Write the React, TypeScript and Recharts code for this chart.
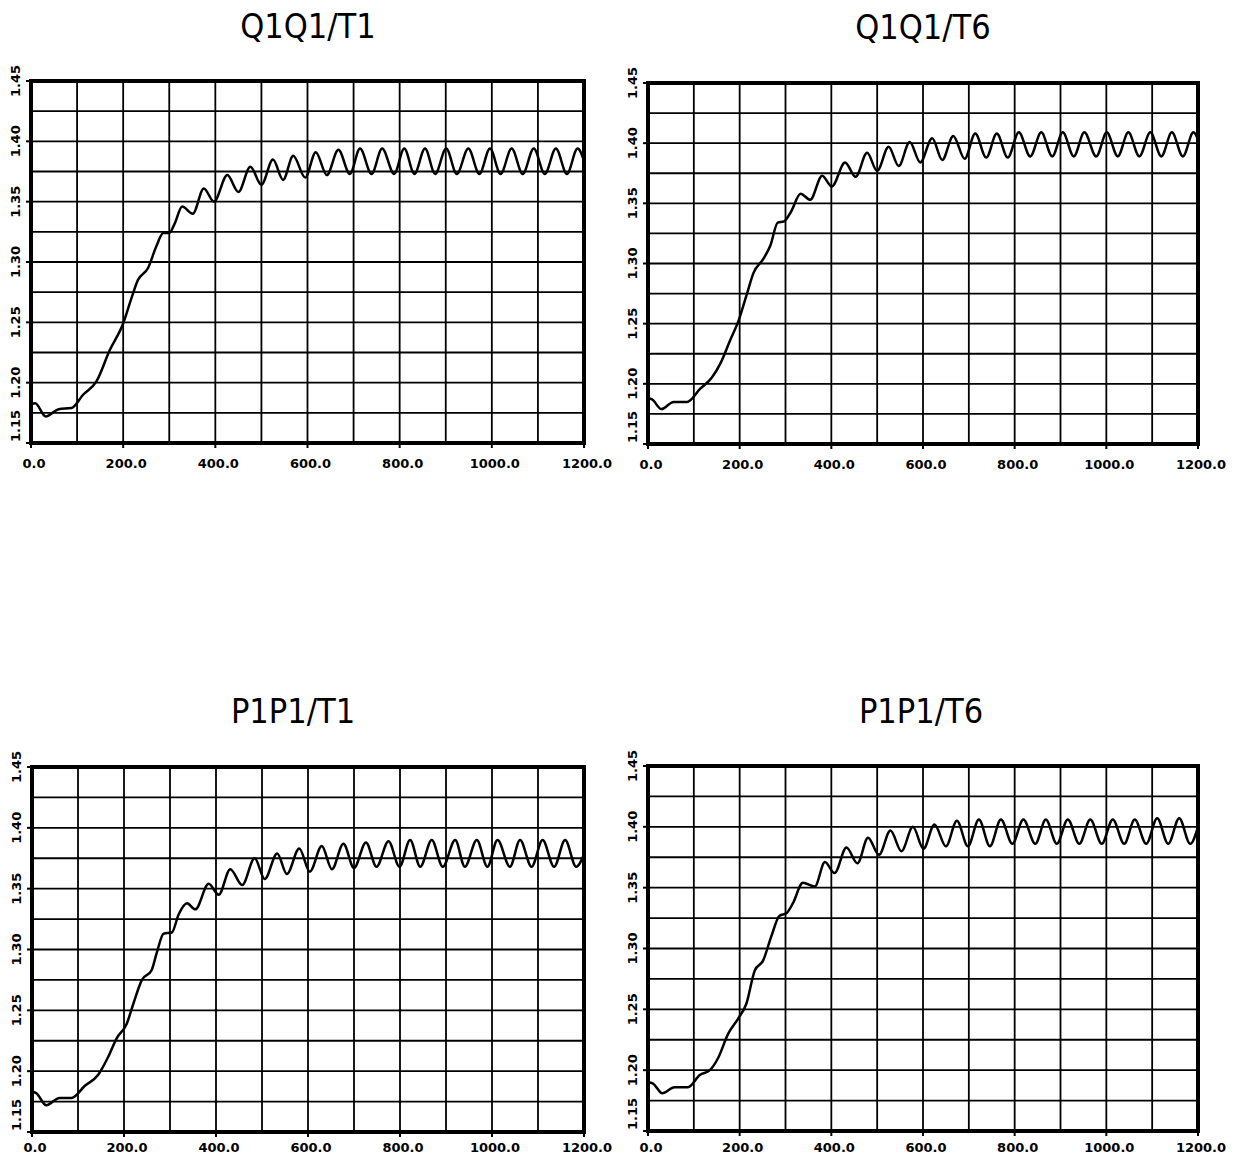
import React from 'react';
import { LineChart, Line, XAxis, YAxis, CartesianGrid, ReferenceArea } from 'recharts';

// Axis ticks (grid every 100 / 0.025, labels every 200 / 0.05)
const X_TICKS = [0, 100, 200, 300, 400, 500, 600, 700, 800, 900, 1000, 1100, 1200];
const Y_TICKS = [1.15, 1.175, 1.2, 1.225, 1.25, 1.275, 1.3, 1.325, 1.35, 1.375, 1.4, 1.425, 1.45];
const X_LABELED = [0, 200, 400, 600, 800, 1000, 1200];
const Y_LABELED = [1.15, 1.2, 1.25, 1.3, 1.35, 1.4, 1.45];

// Q1Q1/T1
const Q1T1_X = [0, 9, 32, 60, 88, 113, 142, 171, 200, 218, 232, 254, 272, 287, 300, 312, 328, 351, 375, 397, 426, 450, 476, 500, 525, 547, 569, 595, 618, 642, 667, 692, 714, 739, 762, 788, 810, 832, 855, 877, 901, 924, 949, 973, 996, 1019, 1043, 1067, 1091, 1115, 1139, 1163, 1186, 1200];
const Q1T1_Y = [1.182, 1.183, 1.172, 1.178, 1.179, 1.19, 1.201, 1.227, 1.249, 1.27, 1.285, 1.295, 1.313, 1.324, 1.324, 1.332, 1.346, 1.34, 1.361, 1.35, 1.372, 1.358, 1.379, 1.364, 1.385, 1.368, 1.388, 1.37, 1.391, 1.372, 1.393, 1.373, 1.394, 1.373, 1.394, 1.373, 1.394, 1.373, 1.394, 1.373, 1.394, 1.373, 1.394, 1.373, 1.394, 1.373, 1.394, 1.373, 1.394, 1.373, 1.394, 1.373, 1.394, 1.384];

// Q1Q1/T6
const Q1T6_X = [0, 9, 29, 56, 85, 114, 139, 158, 179, 198, 216, 230, 252, 267, 283, 297, 312, 333, 354, 380, 401, 430, 453, 478, 500, 525, 547, 571, 594, 620, 642, 666, 691, 714, 738, 761, 785, 809, 834, 858, 882, 905, 929, 952, 978, 1001, 1025, 1048, 1072, 1096, 1120, 1143, 1167, 1190, 1200];
const Q1T6_Y = [1.188, 1.187, 1.179, 1.185, 1.185, 1.196, 1.205, 1.217, 1.236, 1.253, 1.275, 1.292, 1.304, 1.315, 1.334, 1.335, 1.343, 1.358, 1.353, 1.373, 1.364, 1.384, 1.372, 1.392, 1.377, 1.397, 1.381, 1.401, 1.384, 1.404, 1.386, 1.406, 1.387, 1.408, 1.388, 1.408, 1.388, 1.409, 1.389, 1.409, 1.389, 1.409, 1.389, 1.409, 1.389, 1.409, 1.389, 1.409, 1.389, 1.409, 1.389, 1.409, 1.389, 1.409, 1.403];

// P1P1/T1
const P1T1_X = [0, 9, 31, 60, 86, 115, 144, 166, 184, 206, 220, 239, 260, 271, 286, 304, 319, 337, 355, 384, 406, 431, 457, 484, 506, 533, 554, 581, 604, 630, 652, 677, 700, 726, 749, 775, 799, 822, 844, 869, 893, 920, 941, 967, 990, 1012, 1039, 1061, 1086, 1110, 1135, 1159, 1183, 1200];
const P1T1_Y = [1.183, 1.182, 1.172, 1.178, 1.178, 1.188, 1.197, 1.212, 1.227, 1.239, 1.255, 1.275, 1.283, 1.297, 1.313, 1.314, 1.329, 1.338, 1.333, 1.354, 1.345, 1.366, 1.353, 1.375, 1.358, 1.379, 1.362, 1.383, 1.364, 1.385, 1.366, 1.387, 1.367, 1.388, 1.368, 1.389, 1.368, 1.39, 1.368, 1.39, 1.368, 1.39, 1.368, 1.39, 1.368, 1.39, 1.368, 1.39, 1.368, 1.39, 1.368, 1.39, 1.368, 1.378];

// P1P1/T6
const P1T6_X = [0, 11, 31, 58, 87, 113, 135, 153, 175, 196, 215, 233, 251, 269, 287, 302, 316, 338, 364, 386, 407, 433, 457, 480, 504, 529, 553, 578, 601, 625, 650, 674, 698, 722, 746, 770, 795, 819, 845, 868, 892, 916, 941, 965, 990, 1014, 1039, 1062, 1087, 1111, 1135, 1159, 1183, 1200];
const P1T6_Y = [1.19, 1.189, 1.181, 1.186, 1.186, 1.196, 1.2, 1.21, 1.23, 1.242, 1.255, 1.282, 1.29, 1.31, 1.327, 1.329, 1.337, 1.354, 1.351, 1.371, 1.362, 1.383, 1.37, 1.391, 1.377, 1.397, 1.38, 1.4, 1.382, 1.402, 1.384, 1.405, 1.384, 1.406, 1.384, 1.406, 1.386, 1.406, 1.386, 1.406, 1.386, 1.406, 1.386, 1.406, 1.386, 1.406, 1.386, 1.406, 1.386, 1.407, 1.386, 1.407, 1.386, 1.4];

const zip = (xs: number[], ys: number[]) => xs.map((x, i) => ({ x, y: ys[i] }));

const TICK_FONT = '"DejaVu Sans", sans-serif';
const TICK_SIZE = 6;
const TICK_MARGIN = 2;

const XTick = (props: any) => {
  const { x, y, payload, labelOffset } = props;
  const v = payload.value;
  if (!X_LABELED.includes(v)) return <g />;
  const base = y - TICK_SIZE - TICK_MARGIN;
  return (
    <g>
      <line x1={x} x2={x} y1={base} y2={base + 5} stroke="#000" strokeWidth={2} />
      <text x={x + 3} y={base + labelOffset} textAnchor="middle" dominantBaseline="central"
        fontFamily={TICK_FONT} fontWeight="bold" fontSize={13} fill="#000">
        {v.toFixed(1)}
      </text>
    </g>
  );
};

const YTick = (props: any) => {
  const { x, y, payload } = props;
  const v = payload.value;
  if (!Y_LABELED.includes(v)) return <g />;
  const base = x + TICK_SIZE + TICK_MARGIN;
  const isBottom = v === 1.15;
  return (
    <g>
      <line x1={base - 5} x2={base} y1={y} y2={y} stroke="#000" strokeWidth={2} />
      <text transform={`translate(${base - 16},${isBottom ? y - 1 : y}) rotate(-90)`}
        textAnchor={isBottom ? 'start' : 'middle'} dominantBaseline="central"
        fontFamily={TICK_FONT} fontWeight="bold" fontSize={13} fill="#000">
        {v.toFixed(2)}
      </text>
    </g>
  );
};

type PanelProps = {
  title: string; xs: number[]; ys: number[];
  plotLeft: number; plotTop: number; plotW: number; plotH: number;
  titleX: number; titleY: number; labelOffset: number;
};

const ML = 40, MT = 20, MR = 30, MB = 4, XH = 30;

const Panel = ({ title, xs, ys, plotLeft, plotTop, plotW, plotH, titleX, titleY, labelOffset }: PanelProps) => {
  const data = zip(xs, ys);
  return (
    <>
      <div style={{
        position: 'absolute', left: titleX - 150, top: titleY - 20, width: 300, height: 40,
        lineHeight: '40px', textAlign: 'center', fontFamily: '"Liberation Sans Narrow", "DejaVu Sans Condensed", sans-serif',
        fontSize: 34, color: '#000',
      }}>{title}</div>
      <div style={{ position: 'absolute', left: plotLeft - ML, top: plotTop - MT }}>
        <LineChart width={plotW + ML + MR} height={plotH + MT + MB + XH} data={data}
          margin={{ top: MT, right: MR, bottom: MB, left: 0 }}>
          <CartesianGrid stroke="#000" strokeWidth={1.8} />
          <XAxis type="number" dataKey="x" domain={[0, 1200]} ticks={X_TICKS} interval={0}
            height={XH} axisLine={false} tickLine={false} tickSize={TICK_SIZE} tickMargin={TICK_MARGIN}
            tick={<XTick labelOffset={labelOffset} />} allowDataOverflow />
          <YAxis type="number" domain={[1.15, 1.45]} ticks={Y_TICKS} interval={0}
            width={ML} axisLine={false} tickLine={false} tickSize={TICK_SIZE} tickMargin={TICK_MARGIN}
            tick={<YTick />} allowDataOverflow />
          <Line type="monotone" dataKey="y" stroke="#000" strokeWidth={2.5} dot={false}
            isAnimationActive={false} />
          <ReferenceArea x1={0} x2={1200} y1={1.15} y2={1.45} fill="none" stroke="#000"
            strokeWidth={4} fillOpacity={0} ifOverflow="visible" />
        </LineChart>
      </div>
    </>
  );
};

export default function App() {
  return (
    <div style={{ position: 'absolute', left: 0, top: 0, width: 1234, height: 1157, background: '#fff', overflow: 'hidden' }}>
      <Panel title="Q1Q1/T1" xs={Q1T1_X} ys={Q1T1_Y} plotLeft={31} plotTop={81} plotW={553} plotH={362} titleX={308} titleY={26} labelOffset={20} />
      <Panel title="Q1Q1/T6" xs={Q1T6_X} ys={Q1T6_Y} plotLeft={648} plotTop={83} plotW={550} plotH={361} titleX={923} titleY={27} labelOffset={20} />
      <Panel title="P1P1/T1" xs={P1T1_X} ys={P1T1_Y} plotLeft={32} plotTop={767} plotW={552} plotH={365} titleX={293} titleY={711} labelOffset={15} />
      <Panel title="P1P1/T6" xs={P1T6_X} ys={P1T6_Y} plotLeft={648} plotTop={766} plotW={550} plotH={365} titleX={921} titleY={711} labelOffset={16} />
    </div>
  );
}
